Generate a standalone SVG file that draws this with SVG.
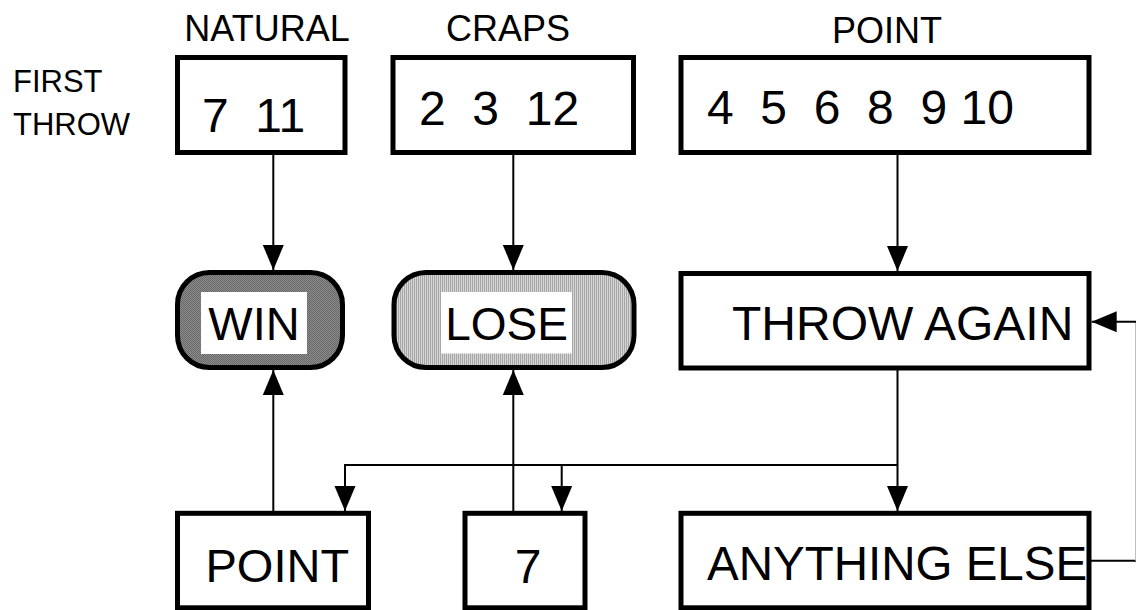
<svg xmlns="http://www.w3.org/2000/svg" width="1136" height="610" viewBox="0 0 1136 610">
  <style>
    text { font-family: "Liberation Sans", Arial, sans-serif; fill: #000; }
    .box { fill: #fff; stroke: #000; stroke-width: 5; }
    .term { stroke: #000; stroke-width: 5; }
    .lbl { fill: #fff; stroke: none; }
    .head { font-size: 36px; text-anchor: middle; }
    .side { font-size: 31px; }
    .big { font-size: 48px; }
    .wire { fill: none; stroke: #000; stroke-width: 2; }
  </style>
  <defs>
    <marker id="arrow" markerUnits="userSpaceOnUse" markerWidth="26" markerHeight="22" refX="25" refY="11" orient="auto">
      <path d="M0,0.5 L25,11 L0,21.5 Z" fill="#000"/>
    </marker>
    <pattern id="dots" width="2" height="2" patternUnits="userSpaceOnUse">
      <rect width="2" height="2" fill="#8c8c8c"/>
      <rect width="1" height="1" fill="#686868"/>
      <rect x="1" y="1" width="1" height="1" fill="#686868"/>
    </pattern>
    <pattern id="stripes" width="2" height="2" patternUnits="userSpaceOnUse">
      <rect width="2" height="2" fill="#d6d6d6"/>
      <rect width="1" height="2" fill="#a6a6a6"/>
    </pattern>
  </defs>

  <rect width="1136" height="610" fill="#fff"/>

  <!-- column headings -->
  <g id="headings">
    <text class="head" x="267" y="41">NATURAL</text>
    <text class="head" x="508" y="41">CRAPS</text>
    <text class="head" x="887" y="43">POINT</text>
    <text class="side" x="13" y="92">FIRST</text>
    <text class="side" x="13" y="135">THROW</text>
  </g>

  <!-- first-throw outcomes -->
  <g id="natural">
    <rect class="box" x="177.5" y="57.5" width="167.5" height="95"/>
    <text class="big" x="202" y="132" xml:space="preserve">7  11</text>
  </g>
  <g id="craps">
    <rect class="box" x="393" y="57.5" width="240.5" height="95"/>
    <text class="big" x="419" y="125" xml:space="preserve">2  3  12</text>
  </g>
  <g id="point-first">
    <rect class="box" x="681" y="57.5" width="408" height="95"/>
    <text class="big" x="707" y="124" xml:space="preserve">4  5  6  8  9 10</text>
  </g>

  <!-- results -->
  <g id="win">
    <rect class="term" x="177.5" y="272.5" width="165" height="95" rx="32" ry="32" fill="url(#dots)"/>
    <rect class="lbl" x="201" y="292" width="106" height="62"/>
    <text x="254" y="340" font-size="47" text-anchor="middle">WIN</text>
  </g>
  <g id="lose">
    <rect class="term" x="394" y="272.5" width="240" height="95" rx="32" ry="32" fill="url(#stripes)"/>
    <rect class="lbl" x="441" y="292" width="131" height="61.5"/>
    <text x="506.5" y="340" font-size="46" text-anchor="middle">LOSE</text>
  </g>
  <g id="throw-again">
    <rect class="box" x="681" y="273.5" width="408" height="94.5"/>
    <text class="big" x="732" y="340">THROW AGAIN</text>
  </g>

  <!-- subsequent throws -->
  <g id="point-again">
    <rect class="box" x="177.5" y="513.3" width="191" height="94.5"/>
    <text x="205.5" y="582" font-size="47">POINT</text>
  </g>
  <g id="seven">
    <rect class="box" x="465" y="513.3" width="120" height="94.5"/>
    <text class="big" x="528" y="583" text-anchor="middle">7</text>
  </g>
  <g id="anything-else">
    <rect class="box" x="681" y="513.3" width="408" height="94.5"/>
    <text x="707" y="579.5" font-size="47.5">ANYTHING ELSE</text>
  </g>

  <!-- connectors -->
  <g id="connectors">
    <line class="wire" x1="273.3" y1="155" x2="273.3" y2="270" marker-end="url(#arrow)"/>
    <line class="wire" x1="513.3" y1="155" x2="513.3" y2="270" marker-end="url(#arrow)"/>
    <line class="wire" x1="897.5" y1="155" x2="897.5" y2="271" marker-end="url(#arrow)"/>
    <line class="wire" x1="273.3" y1="511" x2="273.3" y2="370" marker-end="url(#arrow)"/>
    <line class="wire" x1="513.3" y1="511" x2="513.3" y2="370" marker-end="url(#arrow)"/>
    <line class="wire" x1="897.5" y1="370" x2="897.5" y2="511" marker-end="url(#arrow)"/>
    <polyline class="wire" points="897.5,465 345,465 345,511" marker-end="url(#arrow)"/>
    <polyline class="wire" points="561.7,465 561.7,511" marker-end="url(#arrow)"/>
    <line class="wire" x1="1091" y1="560.7" x2="1136" y2="560.7"/>
    <line x1="1135.5" y1="321.7" x2="1135.5" y2="560.7" stroke="#bdbdbd" stroke-width="1"/>
    <line class="wire" x1="1136" y1="321.7" x2="1091.7" y2="321.7" marker-end="url(#arrow)"/>
  </g>
</svg>
